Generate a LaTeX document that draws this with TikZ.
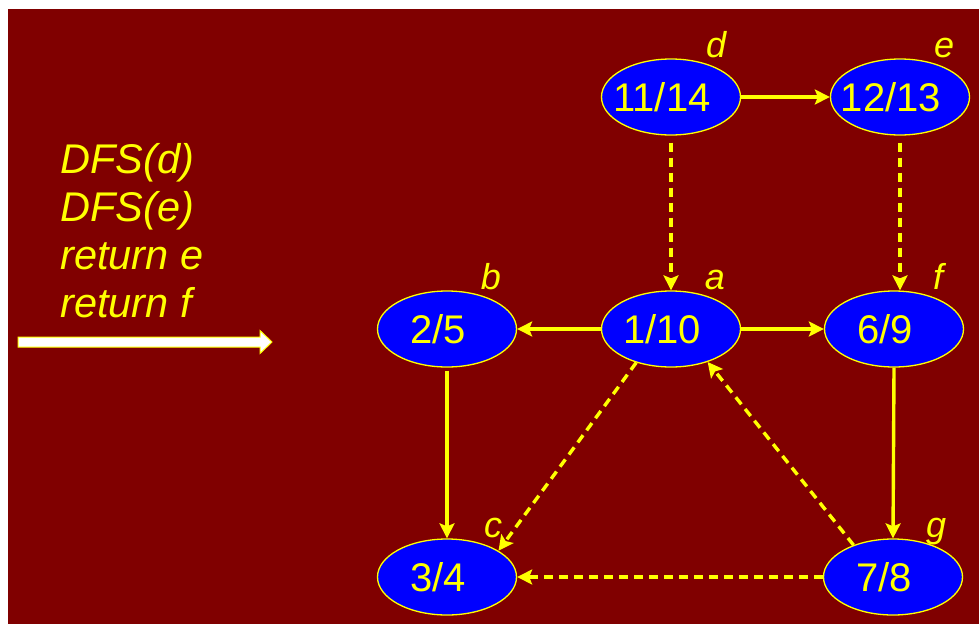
\documentclass[tikz,border=0pt]{standalone}
\usepackage{fontspec}
\setmainfont{Liberation Sans}
\usetikzlibrary{arrows.meta,positioning,shapes.geometric,calc}
\definecolor{maroonbg}{HTML}{800000}
\definecolor{nodeblue}{HTML}{0000FF}
\definecolor{hiyellow}{HTML}{FFFF00}
\tikzset{
  vertex/.style={
    ellipse, draw=hiyellow, fill=nodeblue, line width=1.3pt,
    minimum width=139pt, minimum height=76pt,
    text=hiyellow, font=\fontsize{40}{44}\selectfont,
    execute at begin node={\hspace*{-18pt}},
    inner sep=0pt
  },
  vname/.style={
    text=hiyellow, font=\fontsize{36}{40}\selectfont\itshape,
    anchor=base, inner sep=0pt
  },
  treeedge/.style={
    -{Stealth[length=15pt,width=15pt,inset=3pt]}, line width=3.4pt, draw=hiyellow
  },
  backedge/.style={
    treeedge, dash pattern=on 9pt off 6pt
  },
  calltrace/.style={
    text=hiyellow, font=\fontsize{41.5}{48}\selectfont\itshape,
    align=left, inner sep=0pt
  },
}

\begin{document}
\begin{tikzpicture}[x=1pt,y=-1pt]
  \useasboundingbox (0,0) rectangle (979,624);
  \fill[maroonbg] (8,9) rectangle (979,624);

  % call trace on the left
  \node[calltrace, anchor=north west] (trace) at (60,143)
    {DFS(d)\\DFS(e)\\return e\\return f};
  \coordinate (tail) at (18,342);
  \coordinate (tip) at (272,342);
  \draw[draw=hiyellow, fill=white, line width=1pt]
    ($(tail)+(0,-5)$) -- ($(tip)+(-12,-5)$) -- ($(tip)+(-12,-11.5)$) -- (tip)
    -- ($(tip)+(-12,11.5)$) -- ($(tip)+(-12,5)$) -- ($(tail)+(0,5)$) -- cycle;

  % vertices with discovery/finish times
  \node[vertex] (d) at (671,97) {11/14};
  \node[vertex] (e) at (900,97) {12/13};
  \node[vertex] (b) at (447,329) {2/5};
  \node[vertex] (a) at (671,329) {1/10};
  \node[vertex] (f) at (894,329) {6/9};
  \node[vertex] (c) at (447,577) {3/4};
  \node[vertex] (g) at (893,577) {7/8};

  \node[vname] (dname) at (716,57) {d};
  \node[vname] (ename) at (944,57) {e};
  \node[vname] (bname) at (491,289) {b};
  \node[vname] (aname) at (715,289) {a};
  \node[vname] (fname) at (938,289) {f};
  \node[vname] (cname) at (493,537) {c};
  \node[vname] (gname) at (936,537) {g};

  % tree edges
  \draw[treeedge] (d) -- (e);
  \draw[treeedge] (a) -- (b);
  \draw[treeedge] (a) -- (f);
  \draw[treeedge, shorten <=3pt] (b.south) -- (c.north);
  \draw[treeedge] (f.south) -- (g.north);

  % other edges
  \draw[backedge, shorten <=7pt] (d.south) -- (a.north);
  \draw[backedge, shorten <=7pt] (e.south) -- (e.south |- f.north);
  \draw[backedge] (a.224) -- (c.27);
  \draw[backedge] (g.141) -- (a.318);
  \draw[backedge] (g.west) -- (c.east);
\end{tikzpicture}
\end{document}
